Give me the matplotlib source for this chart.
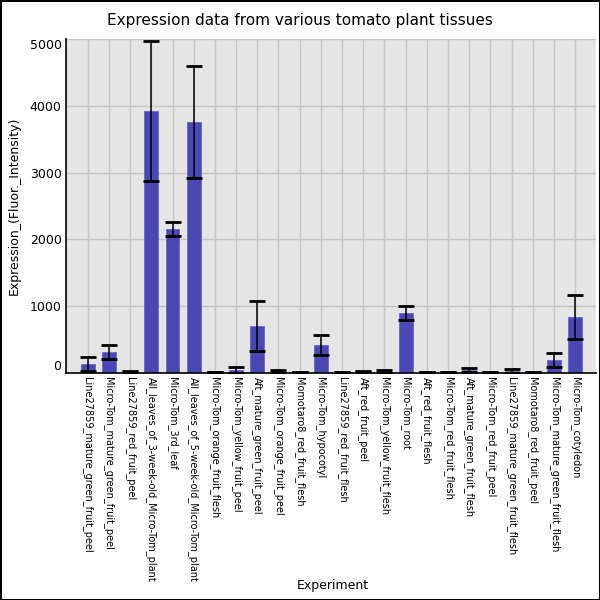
import numpy as np
import matplotlib
matplotlib.use("Agg")
import matplotlib.pyplot as plt

# ---------------- Data ----------------
experiments = [
    "Line27859_mature_green_fruit_peel",
    "Micro-Tom_mature_green_fruit_peel",
    "Line27859_red_fruit_peel",
    "All_leaves_of_3-week-old_Micro-Tom_plant",
    "Micro-Tom_3rd_leaf",
    "All_leaves_of_5-week-old_Micro-Tom_plant",
    "Micro-Tom_orange_fruit_flesh",
    "Micro-Tom_yellow_fruit_peel",
    "Aft_mature_green_fruit_peel",
    "Micro-Tom_orange_fruit_peel",
    "Momotaro8_red_fruit_flesh",
    "Micro-Tom_hypocotyl",
    "Line27859_red_fruit_flesh",
    "Aft_red_fruit_peel",
    "Micro-Tom_yellow_fruit_flesh",
    "Micro-Tom_root",
    "Aft_red_fruit_flesh",
    "Micro-Tom_red_fruit_flesh",
    "Aft_mature_green_fruit_flesh",
    "Micro-Tom_red_fruit_peel",
    "Line27859_mature_green_fruit_flesh",
    "Momotaro8_red_fruit_peel",
    "Micro-Tom_mature_green_fruit_flesh",
    "Micro-Tom_cotyledon",
]
expression = [130, 310, 15, 3925, 2155, 3760, 8, 40, 700, 25, 6, 415,
              6, 15, 18, 895, 5, 6, 40, 8, 25, 6, 195, 835]
std_dev = [110, 100, 8, 1050, 105, 840, 4, 45, 370, 12, 3, 150,
           3, 10, 25, 100, 3, 3, 30, 5, 30, 3, 105, 330]
y_ticks = [0, 1000, 2000, 3000, 4000, 5000]

TITLE = "Expression data from various tomato plant tissues"
XLABEL = "Experiment"
YLABEL = "Expression_(Fluor._Intensity)"

BAR_COLOR = "#4b47b3"
AX_BG = "#e5e5e5"
GRID_COLOR = "#c6c6c6"

fig = plt.figure(figsize=(6, 6), dpi=100)
fig.patch.set_edgecolor("black")
fig.patch.set_linewidth(1.0)

ax = fig.add_axes([0.1095, 0.379, 0.8838, 0.5555])
ax.set_facecolor(AX_BG)

x = np.arange(len(experiments))
ax.bar(x, expression, width=0.65, color=BAR_COLOR, edgecolor="#6a67c4",
       linewidth=0.6, zorder=2)
ax.errorbar(x, expression, yerr=std_dev, fmt="none", ecolor="black",
            elinewidth=1.1, capsize=5.5, capthick=2, zorder=3)

ax.set_xlim(-1.04, 23.98)
ax.set_ylim(0, 5000)
ax.set_yticks(y_ticks)
ax.set_xticks(x)
ax.set_xticklabels(experiments, rotation=-90, fontsize=7.0, va="top", ha="center")
ax.tick_params(axis="both", length=0, pad=3)
ax.tick_params(axis="y", labelsize=9)

# end labels are kept inside the axes, like the reference
ylabels = ax.get_yticklabels()
ylabels[0].set_va("bottom")
ylabels[-1].set_va("top")

ax.grid(True, color=GRID_COLOR, linewidth=1.0, zorder=0)
ax.set_axisbelow(True)
for side in ("top", "right"):
    ax.spines[side].set_visible(False)
for side in ("left", "bottom"):
    ax.spines[side].set_color("black")
    ax.spines[side].set_linewidth(1.2)

ax.set_ylabel(YLABEL, fontsize=9)
ax.yaxis.set_label_coords(-0.085, 0.5)
fig.text(0.555, 0.025, XLABEL, ha="center", va="center", fontsize=9)
fig.text(0.5, 0.965, TITLE, ha="center", va="center", fontsize=11)

fig.savefig("out.png", dpi=100, edgecolor=fig.get_edgecolor())
